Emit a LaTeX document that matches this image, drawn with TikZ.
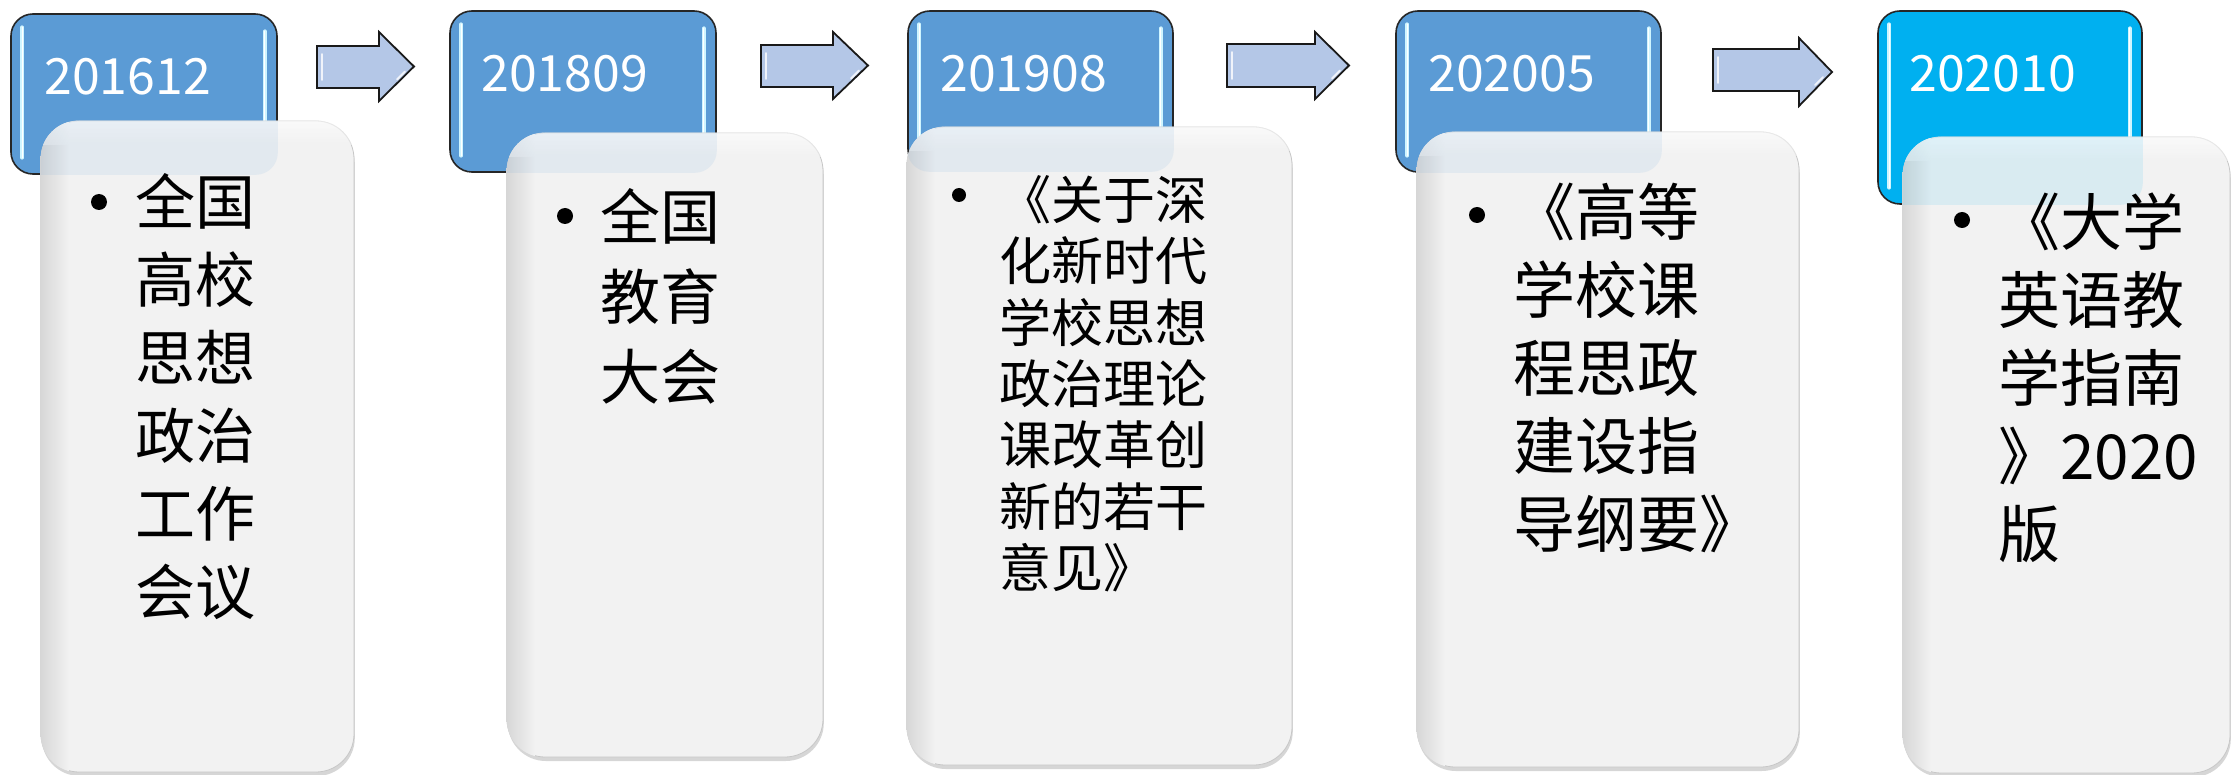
\documentclass[tikz,border=0pt]{standalone}
\usepackage{fontspec}
\setmainfont{Noto Sans CJK SC}
\usetikzlibrary{shadows}
\definecolor{hdrblue}{HTML}{5B9BD5}
\definecolor{hdrcyan}{HTML}{00B0F0}
\definecolor{boxgray}{HTML}{F2F2F2}
\definecolor{arrowfill}{HTML}{B4C7E7}
\definecolor{hilite}{HTML}{CFF5FF}
\tikzset{
  header/.style={rectangle, rounded corners=11pt, draw=black!85, line width=0.8pt, inner sep=0pt},
  yeartext/.style={text=white, font=\fontsize{25pt}{30pt}\selectfont, anchor=base west, inner sep=0pt},
  card/.style={rectangle, rounded corners=19pt, fill=boxgray, inner sep=0pt, draw=black!22, line width=0.4pt,
    drop shadow={shadow xshift=0.4pt, shadow yshift=-2pt, opacity=0.35, fill=black!45}},
  stagearrow/.style={draw=black!90, fill=arrowfill, line width=0.9pt, line join=miter},
  bevel/.style={draw=white, line width=0.9pt, opacity=0.8, line cap=round},
  itemtext/.style={anchor=north west, inner sep=0pt, align=left, text=black},
  dot/.style={circle, fill=black, inner sep=0pt, minimum size=8pt},
  hl/.style={line width=1.8pt, draw=hilite, line cap=round},
  hlcore/.style={line width=0.6pt, draw=white, line cap=round},
}
\newcommand\hdrdeco[1]{%
  \draw[hl] ([xshift=6pt,yshift=-7pt]#1.north west) -- ([xshift=6pt,yshift=8.5pt]#1.south west);
  \draw[hlcore] ([xshift=6pt,yshift=-7pt]#1.north west) -- ([xshift=6pt,yshift=8.5pt]#1.south west);
  \draw[hl] ([xshift=-6.5pt,yshift=-9pt]#1.north east) -- ([xshift=-6.5pt,yshift=8.5pt]#1.south east);
  \draw[hlcore] ([xshift=-6.5pt,yshift=-9pt]#1.north east) -- ([xshift=-6.5pt,yshift=8.5pt]#1.south east);
}
\newcommand\carddeco[3]{%
  \begin{scope}
    \path[clip, rounded corners=19pt] (#1.north west) rectangle (#1.south east);
    \shade[left color=black!16, right color=boxgray] (#1.north west) rectangle ([xshift=14pt]#1.south west);
    \shade[top color=white, bottom color=boxgray, opacity=0.6] (#1.north west) rectangle ([yshift=-12pt]#1.north east);
    \fill[#3, opacity=0.1, rounded corners=11pt] (#2.north west) rectangle (#2.south east);
  \end{scope}}
% block arrow: #1 tail x, #2 head start x, #3 tip x, #4 shaft top, #5 shaft bottom, #6 head top, #7 head bottom
\newcommand\blockarrow[7]{%
  \draw[stagearrow] (#1,#4) -- (#2,#4) -- (#2,#6) -- (#3,{(#6+#7)/2}) -- (#2,#7) -- (#2,#5) -- (#1,#5) -- cycle;
  \draw[bevel] ({#1+5},{#4+8}) -- ({#1+5},{#5-8});
  \draw[bevel] ({#3-9},{(#6+#7)/2+5}) -- ({#3-17},{(#6+#7)/2+13});
}
\begin{document}
\begin{tikzpicture}[x=0.5pt, y=-0.5pt]
\useasboundingbox (0,0) rectangle (2231,775);
\fill[white] (0,0) rectangle (2231,775);

% headers
\node[header, fill=hdrblue, minimum width=133pt, minimum height=80pt] (h1) at (144,94) {};
\node[header, fill=hdrblue, minimum width=133pt, minimum height=80.5pt] (h2) at (583,91.5) {};
\node[header, fill=hdrblue, minimum width=132.5pt, minimum height=80pt] (h3) at (1040.5,91) {};
\node[header, fill=hdrblue, minimum width=132.5pt, minimum height=80.5pt] (h4) at (1528.5,91.5) {};
\node[header, fill=hdrcyan, minimum width=132pt, minimum height=96.5pt] (h5) at (2010,107.5) {};
\hdrdeco{h1}\hdrdeco{h2}\hdrdeco{h3}\hdrdeco{h4}\hdrdeco{h5}

\node[yeartext] (y1) at (44,95) {201612};
\node[yeartext] (y2) at (481,92) {201809};
\node[yeartext] (y3) at (940,92) {201908};
\node[yeartext] (y4) at (1428,92) {202005};
\node[yeartext] (y5) at (1909,92) {202010};

% arrows between the headers
\blockarrow{317}{379}{414}{46}{88}{32}{101}
\blockarrow{761}{833}{868}{45}{87}{32}{99}
\blockarrow{1227}{1315}{1349}{44}{87}{32}{99}
\blockarrow{1713}{1799}{1832}{49}{91}{38}{106}

% cards
\node[card, minimum width=156.5pt, minimum height=325.5pt] (c1) at (197.5,446.5) {};
\carddeco{c1}{h1}{hdrblue}
\node[card, minimum width=158pt, minimum height=312pt] (c2) at (665,445) {};
\carddeco{c2}{h2}{hdrblue}
\node[card, minimum width=192.5pt, minimum height=319pt] (c3) at (1099.5,446) {};
\carddeco{c3}{h3}{hdrblue}
\node[card, minimum width=191pt, minimum height=317.5pt] (c4) at (1608,449.5) {};
\carddeco{c4}{h4}{hdrblue}
\node[card, minimum width=163.5pt, minimum height=318pt] (c5) at (2066.5,455) {};
\carddeco{c5}{h5}{hdrcyan}

% bullets
\node[dot] (b1) at (99,202) {};
\node[dot] (b2) at (565,216) {};
\node[dot, minimum size=7pt] (b3) at (959,195) {};
\node[dot] (b4) at (1477,215) {};
\node[dot] (b5) at (1962,220) {};

% texts
\node[itemtext, font=\fontsize{30pt}{39pt}\selectfont] (t1) at (135,173) {全国\\高校\\思想\\政治\\工作\\会议};
\node[itemtext, font=\fontsize{30pt}{40pt}\selectfont] (t2) at (600,188) {全国\\教育\\大会};
\node[itemtext, font=\fontsize{26pt}{30.7pt}\selectfont] (t3) at (999,175) {《关于深\\化新时代\\学校思想\\政治理论\\课改革创\\新的若干\\意见》};
\node[itemtext, font=\fontsize{31pt}{39pt}\selectfont] (t4) at (1513,183) {《高等\\学校课\\程思政\\建设指\\导纲要》};
\node[itemtext, font=\fontsize{31pt}{39pt}\selectfont] (t5) at (1998,192) {《大学\\英语教\\学指南\\》2020\\版};
\end{tikzpicture}
\end{document}
